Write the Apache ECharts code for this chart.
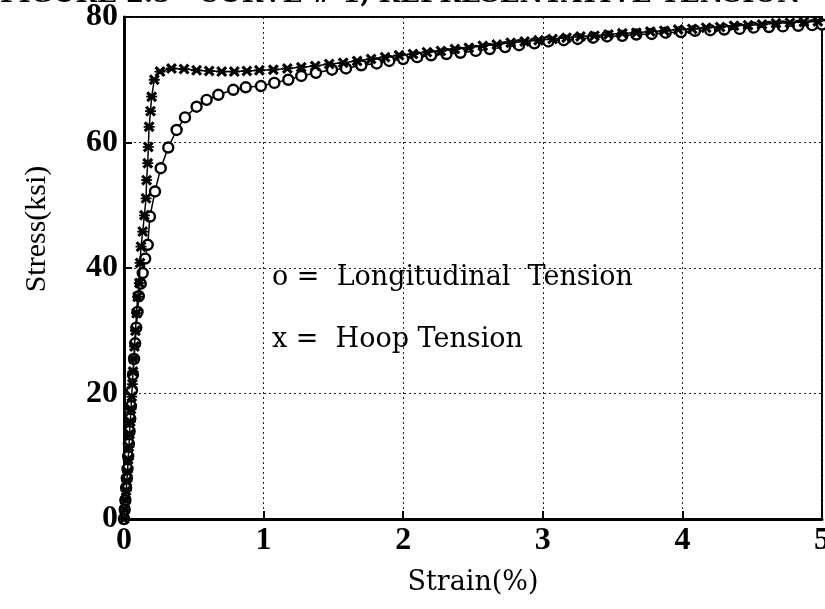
<!DOCTYPE html>
<html>
<head>
<meta charset="utf-8">
<script src="https://cdn.jsdelivr.net/npm/echarts@6/dist/echarts.min.js"></script>
<style>
  html, body { margin: 0; padding: 0; background: #fff; }
  #main { width: 825px; height: 609px; }
</style>
</head>
<body>
<div id="main"></div>
<script>
// 横轴刻度与纵轴刻度
var strainTicks = [0, 1, 2, 3, 4, 5];
var stressTicks = [0, 20, 40, 60, 80];

// o = Longitudinal Tension
var longStrain = [0, 0.005, 0.01, 0.015, 0.02, 0.025, 0.03, 0.035, 0.04, 0.045, 0.05, 0.057, 0.064, 0.072, 0.08, 0.088, 0.097, 0.106, 0.12, 0.134,
  0.152, 0.17, 0.186, 0.222, 0.263, 0.317, 0.377, 0.437, 0.52, 0.592, 0.676, 0.783, 0.872, 0.981,
  1.077, 1.177, 1.27, 1.375, 1.49, 1.59, 1.70, 1.81, 1.90, 2.0, 2.1, 2.2, 2.31, 2.41, 2.52, 2.62, 2.73, 2.83, 2.94,
  3.04, 3.15, 3.25, 3.36, 3.46, 3.57, 3.67, 3.78, 3.88, 3.99, 4.09, 4.20, 4.30, 4.41, 4.51, 4.62, 4.72, 4.83, 4.93, 5.0];
var longStress = [0, 1.5, 3, 5, 6.5, 8, 10, 12, 14, 16, 18, 20.5, 23, 25.5, 28, 30.5, 33, 35.5, 37.5, 39.2,
  41.5, 43.7, 48.2, 52.2, 55.9, 59.2, 62, 64, 65.7, 66.8, 67.6, 68.4, 68.8, 69,
  69.5, 70, 70.6, 71.1, 71.6, 71.8, 72.3, 72.6, 73, 73.3, 73.6, 73.9, 74.1, 74.3, 74.6, 74.9, 75.2, 75.5, 75.8,
  76.1, 76.3, 76.5, 76.7, 76.9, 77.0, 77.2, 77.3, 77.5, 77.6, 77.8, 77.9, 78.0, 78.1, 78.3, 78.4, 78.5, 78.6, 78.7, 78.8];

// x = Hoop Tension
var hoopStrain = [0, 0.005, 0.01, 0.015, 0.02, 0.025, 0.03, 0.035, 0.04, 0.045, 0.05, 0.055, 0.06, 0.065, 0.07, 0.075, 0.082, 0.09, 0.098, 0.11,
  0.115, 0.122, 0.134, 0.146, 0.158, 0.162, 0.17, 0.174, 0.18, 0.19, 0.198, 0.217, 0.258,
  0.34, 0.43, 0.52, 0.61, 0.70, 0.79, 0.88, 0.97, 1.07, 1.17, 1.27, 1.37, 1.47, 1.57, 1.67, 1.77, 1.87, 1.97,
  2.07, 2.17, 2.27, 2.37, 2.47, 2.57, 2.67, 2.77, 2.87, 2.97, 3.07, 3.17, 3.27, 3.37, 3.47, 3.57, 3.67, 3.77, 3.87, 3.97,
  4.07, 4.17, 4.27, 4.37, 4.47, 4.57, 4.67, 4.77, 4.87, 4.97];
var hoopStress = [0, 1.5, 3, 4.5, 6, 7.5, 9.5, 11.5, 13.5, 15.5, 17.5, 19.5, 21.5, 23.5, 25.5, 27.5, 30, 32.8, 35.4, 37.6,
  40.8, 43.4, 45.8, 48.4, 51.1, 54, 56.7, 59.3, 62.5, 65, 67.3, 70, 71.3,
  71.8, 71.7, 71.5, 71.4, 71.3, 71.3, 71.4, 71.5, 71.6, 71.8, 72.0, 72.2, 72.5, 72.7, 73.0, 73.3, 73.6, 73.9,
  74.1, 74.4, 74.6, 74.9, 75.1, 75.4, 75.6, 75.9, 76.1, 76.3, 76.5, 76.7, 76.9, 77.0, 77.2, 77.4, 77.5, 77.7, 77.8, 78.0,
  78.1, 78.3, 78.4, 78.6, 78.7, 78.8, 79.0, 79.1, 79.2, 79.3];

function zip(xs, ys) {
  var out = [];
  for (var i = 0; i < xs.length; i++) out.push([xs[i], ys[i]]);
  return out;
}

var serif = '"Liberation Serif", "DejaVu Serif", serif';
var wideSerif = '"DejaVu Serif", "Liberation Serif", serif';
// 带横杠的 x 形标记
var crossMark = 'path://M0,2 L2,0 L5,3 L8,0 L10,2 L7,5 L10,8 L8,10 L5,7 L2,10 L0,8 L3,5 Z M0,4.2 L10,4.2 L10,5.8 L0,5.8 Z';

var chart = echarts.init(document.getElementById('main'));

var option = {
  backgroundColor: '#ffffff',
  animation: false,
  grid: {
    left: 124,
    right: 3,
    top: 17,
    bottom: 90,
    outerBoundsMode: 'none',
    containLabel: false,
    show: true,
    borderColor: '#000',
    borderWidth: 2,
    backgroundColor: 'transparent'
  },
  graphic: [
    {
      type: 'text', left: 0, top: -18, silent: true,
      style: { text: 'FIGURE 2.5   CURVE # 1, REPRESENTATIVE TENSION', font: 'bold 26px ' + wideSerif, fill: '#000' }
    },
    {
      type: 'text', x: 37, y: 229, rotation: Math.PI / 2, silent: true,
      style: { text: 'Stress(ksi)', font: '30px ' + serif, fill: '#000', align: 'center', verticalAlign: 'middle' }
    },
    {
      type: 'text', left: 272, top: 264, silent: true,
      style: { text: 'o =  Longitudinal  Tension', font: '27px ' + wideSerif, fill: '#000' }
    },
    {
      type: 'text', left: 272, top: 326, silent: true,
      style: { text: 'x =  Hoop Tension', font: '27px ' + wideSerif, fill: '#000' }
    }
  ],
  xAxis: {
    type: 'value',
    min: strainTicks[0],
    max: strainTicks[strainTicks.length - 1],
    interval: 1,
    name: 'Strain(%)',
    nameLocation: 'middle',
    nameGap: 50,
    nameTextStyle: { fontFamily: wideSerif, fontSize: 27, color: '#000' },
    axisLine: { lineStyle: { color: '#000', width: 3 } },
    axisTick: { inside: true, length: 8, lineStyle: { color: '#000', width: 2 } },
    axisLabel: { margin: 6, fontFamily: serif, fontSize: 32, fontWeight: 'bold', color: '#000' },
    splitLine: { show: true, lineStyle: { color: '#222', width: 1, type: [2, 3] } }
  },
  yAxis: {
    type: 'value',
    min: stressTicks[0],
    max: stressTicks[stressTicks.length - 1],
    interval: 20,
    axisLine: { lineStyle: { color: '#000', width: 3 } },
    axisTick: { inside: true, length: 8, lineStyle: { color: '#000', width: 2 } },
    axisLabel: { margin: 6, fontFamily: serif, fontSize: 32, fontWeight: 'bold', color: '#000' },
    splitLine: { show: true, lineStyle: { color: '#222', width: 1, type: [2, 3] } }
  },
  series: [
    {
      name: 'Longitudinal Tension',
      type: 'line',
      data: zip(longStrain, longStress),
      symbol: 'circle',
      symbolSize: 10,
      lineStyle: { color: '#000', width: 1.5 },
      itemStyle: { color: '#fff', borderColor: '#000', borderWidth: 2.4 },
      z: 3
    },
    {
      name: 'Hoop Tension',
      type: 'line',
      data: zip(hoopStrain, hoopStress),
      symbol: crossMark,
      symbolSize: 11,
      lineStyle: { color: '#000', width: 1.5 },
      itemStyle: { color: '#000' },
      z: 4
    }
  ]
};

chart.setOption(option);
</script>
</body>
</html>
